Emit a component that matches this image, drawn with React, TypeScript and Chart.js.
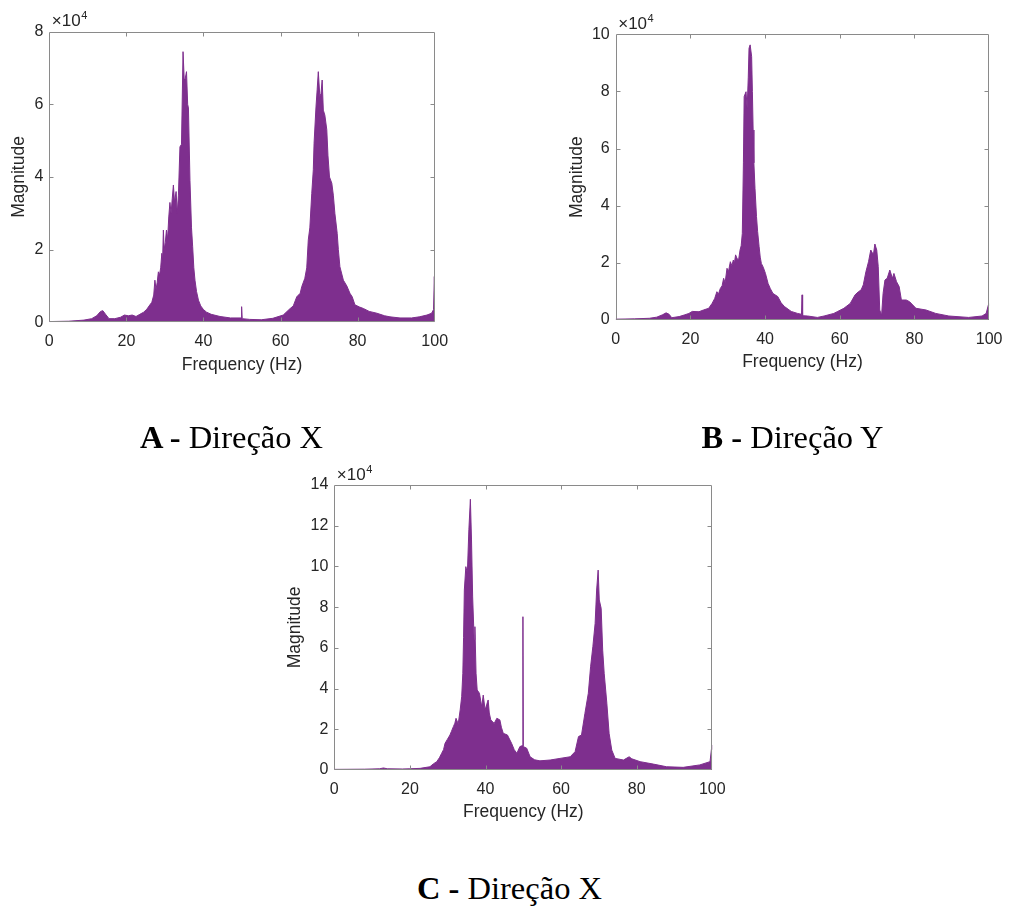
import React, { useEffect, useRef } from 'react';
import { Chart, registerables } from 'chart.js';

Chart.register(...registerables);

const PURPLE = '#7E2F8E';
const TEXT = '#262626';
const AXIS = '#8a8a8a';
const SANS = '"Liberation Sans", Arial, Helvetica, sans-serif';

// shared x ticks (Hz)
const xTickValues = [0, 20, 40, 60, 80, 100];

// ---------- Chart A: Direção X (values ×10^4) ----------
const yTicksA = [0, 2, 4, 6, 8];
const freqA = [0, 5, 9, 11, 12.3, 13.3, 13.9, 14.6, 15.5, 17, 18.5, 19.5, 20.5, 21.5, 22.5, 23.5, 24.5, 25.3, 26.1, 26.6, 27.1, 27.4, 27.7, 28.0, 28.3, 28.6, 28.9, 29.2, 29.4, 29.6, 29.8, 30.1, 30.4, 30.7, 31.0, 31.3, 31.6, 31.9, 32.2, 32.5, 32.9, 33.2, 33.5, 33.9, 34.3, 34.7, 35.0, 35.2, 35.6, 35.9, 36.1, 36.5, 36.9, 37.2, 37.5, 37.8, 38.2, 38.7, 39.3, 40.0, 40.8, 42.0, 44.3, 47.0, 49.75, 49.9, 50.05, 52, 55, 58, 60.7, 62.5, 63.3, 64.2, 65.1, 65.5, 66.3, 66.8, 67.2, 67.6, 68.1, 68.5, 68.7, 69.2, 69.5, 69.8, 70.2, 70.5, 70.8, 71.1, 71.5, 72.0, 72.3, 72.7, 73.3, 73.7, 74.1, 74.7, 75.0, 75.4, 76.3, 77.2, 78.0, 78.6, 79.3, 80.5, 81.5, 83.0, 85.0, 87.0, 88.4, 91, 94, 96, 98, 99.2, 99.7, 99.9, 100];
const magA = [0.02, 0.03, 0.06, 0.1, 0.18, 0.3, 0.32, 0.22, 0.1, 0.1, 0.14, 0.2, 0.18, 0.2, 0.16, 0.22, 0.28, 0.36, 0.48, 0.55, 0.75, 1.16, 0.9, 1.1, 1.39, 1.3, 1.5, 1.9, 1.7, 2.54, 2.0, 2.2, 2.54, 2.3, 2.9, 3.3, 3.0, 3.4, 3.78, 3.3, 3.6, 3.0, 3.5, 4.83, 4.9, 7.45, 6.7, 6.67, 6.9, 6.0, 5.9, 3.9, 2.6, 2.08, 1.5, 1.16, 0.85, 0.61, 0.45, 0.35, 0.28, 0.22, 0.16, 0.12, 0.12, 0.43, 0.1, 0.08, 0.07, 0.11, 0.2, 0.38, 0.45, 0.7, 0.8, 0.98, 1.21, 1.5, 2.27, 2.6, 3.55, 4.2, 4.93, 5.93, 6.4, 6.9, 6.21, 6.3, 6.67, 5.84, 5.7, 5.3, 4.6, 4.0, 3.83, 3.5, 3.0, 2.45, 2.0, 1.53, 1.16, 1.0, 0.8, 0.7, 0.48, 0.42, 0.38, 0.3, 0.25, 0.18, 0.15, 0.12, 0.12, 0.15, 0.2, 0.25, 0.35, 1.26, 0.9];

// ---------- Chart B: Direção Y (values ×10^4) ----------
const yTicksB = [0, 2, 4, 6, 8, 10];
const freqB = [0, 5, 9, 11, 12.5, 13.5, 14.3, 15, 17, 18.5, 19.6, 20.5, 22.3, 23.5, 24.9, 25.8, 26.5, 27.1, 27.5, 28.0, 28.5, 28.9, 29.3, 29.8, 30.2, 30.7, 31.1, 31.5, 31.8, 32.1, 32.5, 32.9, 33.3, 33.6, 33.9, 34.2, 34.4, 34.9, 35.2, 35.5, 35.7, 36.0, 36.4, 36.6, 36.8, 37.0, 37.3, 37.7, 38.0, 38.4, 38.7, 39.0, 39.5, 40.1, 40.8, 41.4, 42.1, 43.4, 44.3, 45.2, 47, 48.7, 49.75, 49.9, 50.05, 51.4, 54, 55.8, 58.4, 59.3, 61.1, 62.8, 64.1, 65.0, 65.7, 66.3, 67.0, 67.7, 68.3, 69.0, 69.4, 69.9, 70.3, 70.7, 71.2, 71.6, 72.1, 72.7, 73.4, 74.1, 74.5, 75.2, 75.9, 76.5, 77.8, 78.7, 80.4, 83.1, 85.7, 89.2, 94.5, 98.1, 99.2, 99.9, 100];
const magB = [0.03, 0.04, 0.06, 0.1, 0.18, 0.25, 0.2, 0.08, 0.12, 0.18, 0.23, 0.3, 0.29, 0.35, 0.41, 0.58, 0.75, 0.99, 0.9, 1.1, 1.2, 1.46, 1.3, 1.81, 1.7, 2.04, 1.9, 2.1, 2.0, 2.28, 2.15, 2.1, 2.45, 2.6, 3.03, 5.5, 7.82, 7.99, 7.41, 8.5, 9.51, 9.63, 9.22, 8.0, 6.65, 5.5, 4.61, 3.62, 3.1, 2.57, 2.2, 1.98, 1.85, 1.63, 1.28, 1.1, 0.93, 0.82, 0.6, 0.47, 0.3, 0.23, 0.2, 0.88, 0.15, 0.14, 0.09, 0.14, 0.23, 0.29, 0.41, 0.58, 0.88, 0.99, 1.05, 1.23, 1.69, 2.04, 2.45, 2.28, 2.66, 2.45, 1.87, 0.35, 0.17, 0.93, 1.4, 1.46, 1.75, 1.46, 1.63, 1.34, 1.17, 0.7, 0.7, 0.64, 0.41, 0.35, 0.23, 0.14, 0.09, 0.14, 0.23, 0.58, 0.5];

// ---------- Chart C: Direção X (values ×10^4) ----------
const yTicksC = [0, 2, 4, 6, 8, 10, 12, 14];
const freqC = [0, 8, 12, 13, 14, 18, 20, 22.7, 24, 25.3, 26.2, 27.1, 27.8, 28.4, 28.9, 29.3, 29.9, 30.6, 31.0, 31.5, 31.9, 32.2, 32.5, 32.8, 33.3, 33.7, 34.0, 34.2, 34.4, 34.8, 35.2, 35.6, 36.0, 36.3, 36.6, 37.0, 37.2, 37.5, 37.8, 38.4, 39.0, 39.4, 39.9, 40.3, 40.7, 41.0, 41.4, 42.3, 43.0, 43.8, 44.2, 44.7, 45.8, 46.9, 47.6, 48.3, 49.1, 49.8, 49.9, 50.0, 50.9, 51.8, 53, 54.4, 57.1, 59.7, 62.4, 63.7, 64.6, 65.4, 66.3, 67.2, 67.8, 68.4, 69.0, 69.4, 69.8, 70.1, 70.6, 71.0, 71.4, 72.1, 72.7, 73.4, 74.3, 76.5, 78.0, 78.7, 80.9, 84.4, 87.9, 92.3, 96.7, 99.4, 99.9, 100];
const magC = [0.03, 0.04, 0.06, 0.1, 0.06, 0.05, 0.06, 0.08, 0.12, 0.16, 0.3, 0.41, 0.6, 0.82, 1.0, 1.31, 1.5, 1.72, 1.9, 2.13, 2.3, 2.54, 2.4, 2.29, 2.95, 3.6, 4.75, 6.5, 8.84, 9.99, 9.66, 11.8, 13.3, 11.3, 8.5, 6.4, 7.04, 4.75, 3.93, 3.77, 3.11, 3.68, 2.95, 3.2, 3.44, 2.8, 2.46, 2.29, 2.54, 2.46, 2.1, 1.8, 1.72, 1.31, 1.0, 0.82, 1.15, 1.2, 7.53, 1.15, 1.07, 0.65, 0.5, 0.45, 0.49, 0.57, 0.65, 0.9, 1.64, 1.72, 2.78, 3.77, 5.07, 6.06, 7.2, 8.84, 9.82, 8.35, 7.94, 5.89, 4.75, 3.28, 1.8, 0.98, 0.57, 0.49, 0.65, 0.55, 0.41, 0.29, 0.16, 0.13, 0.25, 0.41, 1.23, 1.0];

type Spec = {
  freq: number[]; mag: number[]; yTicks: number[];
  cx: number; cy: number; cw: number; ch: number;
  L: number; T: number; R: number; B: number;
  yTitleX: number; xTitleY: number;
};

const specs: Spec[] = [
  { freq: freqA, mag: magA, yTicks: yTicksA, cx: 0, cy: 0, cw: 460, ch: 385, L: 49.3, T: 31.7, R: 434.7, B: 322.3, yTitleX: 19.3, xTitleY: 365 },
  { freq: freqB, mag: magB, yTicks: yTicksB, cx: 560, cy: 0, cw: 452, ch: 385, L: 615.7, T: 34.3, R: 994, B: 320, yTitleX: 577.3, xTitleY: 362 },
  { freq: freqC, mag: magC, yTicks: yTicksC, cx: 280, cy: 450, cw: 460, ch: 380, L: 334.3, T: 485, R: 712.3, B: 770, yTitleX: 295, xTitleY: 811.7 },
];

const TICK_FONT = 16;
const TITLE_FONT = 17.5;

function makeBoxPlugin() {
  return {
    id: 'matlabBox',
    afterDraw(chart: any) {
      const { ctx, chartArea } = chart;
      const { left, top, right, bottom } = chartArea;
      const xs = chart.scales.x;
      const ys = chart.scales.y;
      ctx.save();
      ctx.strokeStyle = AXIS;
      ctx.lineWidth = 1;
      const l = Math.round(left) + 0.5, r = Math.round(right) - 0.5;
      const t = Math.round(top) + 0.5, b = Math.round(bottom) - 0.5;
      ctx.beginPath();
      ctx.rect(l, t, r - l, b - t);
      const tl = 4;
      xs.ticks.forEach((tk: any) => {
        if (tk.value <= xs.min || tk.value >= xs.max) return;
        const px = Math.round(xs.getPixelForValue(tk.value)) + 0.5;
        ctx.moveTo(px, b); ctx.lineTo(px, b - tl);
        ctx.moveTo(px, t); ctx.lineTo(px, t + tl);
      });
      ys.ticks.forEach((tk: any) => {
        if (tk.value <= ys.min || tk.value >= ys.max) return;
        const py = Math.round(ys.getPixelForValue(tk.value)) + 0.5;
        ctx.moveTo(l, py); ctx.lineTo(l + tl, py);
        ctx.moveTo(r, py); ctx.lineTo(r - tl, py);
      });
      ctx.stroke();
      // exponent label ×10^4
      ctx.fillStyle = TEXT;
      ctx.textBaseline = 'alphabetic';
      ctx.textAlign = 'left';
      ctx.font = `17px ${SANS}`;
      const base = '\u00D710';
      const x0 = left + 2.5;
      ctx.fillText(base, x0, top - 5.5);
      const w = ctx.measureText(base).width;
      ctx.font = `11px ${SANS}`;
      ctx.fillText('4', x0 + w + 0.5, top - 12.5);
      ctx.restore();
    },
  };
}

function makeConfig(s: Spec): any {
  const yW = s.L - s.cx;
  const padT = s.T - s.cy;
  const padR = s.cx + s.cw - s.R;
  const xH = s.cy + s.ch - s.B;
  const titleHalf = (TITLE_FONT * 1.2) / 2;
  const yTitlePad = s.yTitleX - s.cx - titleHalf;
  const xTitlePad = s.cy + s.ch - s.xTitleY - titleHalf;
  const yMax = s.yTicks[s.yTicks.length - 1];
  return {
    type: 'line',
    data: {
      datasets: [
        {
          data: s.freq.map((f, i) => ({ x: f, y: s.mag[i] })),
          borderColor: PURPLE,
          backgroundColor: PURPLE,
          borderWidth: 1,
          pointRadius: 0,
          fill: 'origin',
          tension: 0,
        },
      ],
    },
    options: {
      animation: false,
      responsive: false,
      maintainAspectRatio: false,
      events: [],
      layout: { padding: { left: 0, top: padT, right: padR, bottom: 0 } },
      plugins: { legend: { display: false }, tooltip: { enabled: false }, title: { display: false } },
      scales: {
        x: {
          type: 'linear',
          min: 0,
          max: 100,
          afterBuildTicks: (sc: any) => { sc.ticks = xTickValues.map((v) => ({ value: v })); },
          ticks: { font: { family: SANS, size: TICK_FONT }, color: TEXT, padding: 9.5, maxRotation: 0, autoSkip: false },
          grid: { display: false, drawTicks: false },
          border: { display: false },
          title: { display: true, text: 'Frequency (Hz)', color: TEXT, font: { family: SANS, size: TITLE_FONT }, padding: { top: 0, bottom: xTitlePad } },
          afterFit: (sc: any) => { sc.height = xH; },
        },
        y: {
          type: 'linear',
          min: 0,
          max: yMax,
          afterBuildTicks: (sc: any) => { sc.ticks = s.yTicks.map((v) => ({ value: v })); },
          ticks: { font: { family: SANS, size: TICK_FONT }, color: TEXT, padding: 6, autoSkip: false },
          grid: { display: false, drawTicks: false },
          border: { display: false },
          title: { display: true, text: 'Magnitude', color: TEXT, font: { family: SANS, size: TITLE_FONT }, padding: { top: yTitlePad, bottom: 0 } },
          afterFit: (sc: any) => { sc.width = yW; },
        },
      },
    },
    plugins: [makeBoxPlugin()],
  };
}

function Spectrum({ s }: { s: Spec }) {
  const ref = useRef<HTMLCanvasElement>(null);
  useEffect(() => {
    const chart = new Chart(ref.current as HTMLCanvasElement, makeConfig(s));
    return () => chart.destroy();
  }, [s]);
  return (
    <canvas
      ref={ref}
      width={s.cw}
      height={s.ch}
      style={{ position: 'absolute', left: s.cx, top: s.cy, width: s.cw, height: s.ch }}
    />
  );
}

const captionStyle = (cx: number, top: number): React.CSSProperties => ({
  position: 'absolute',
  left: cx,
  top,
  transform: 'translateX(-50%)',
  fontFamily: '"Liberation Serif", "Times New Roman", serif',
  fontSize: 32.5,
  lineHeight: '32.5px',
  whiteSpace: 'nowrap',
  color: '#000',
});

export default function App() {
  return (
    <div style={{ position: 'absolute', left: 0, top: 0, width: 1012, height: 908, background: '#fff', overflow: 'hidden' }}>
      <Spectrum s={specs[0]} />
      <Spectrum s={specs[1]} />
      <Spectrum s={specs[2]} />
      <div style={captionStyle(231.5, 420.5)}><b>A -</b> Direção X</div>
      <div style={captionStyle(792.5, 420.5)}><b>B -</b> Direção Y</div>
      <div style={captionStyle(509.5, 871.5)}><b>C -</b> Direção X</div>
    </div>
  );
}
